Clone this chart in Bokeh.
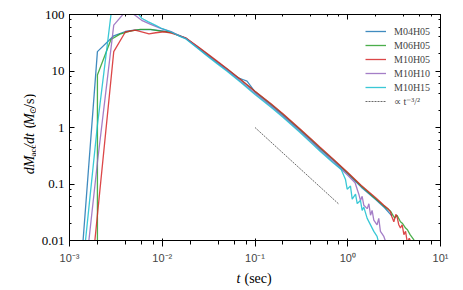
import math
from bokeh.plotting import figure
from bokeh.layouts import row, column
from bokeh.models import (LogAxis, LogTicker, CustomJSTickFormatter, Label, Legend,
                          LegendItem, Range1d)
from bokeh.embed import file_html
from bokeh.resources import INLINE

# ---------------- data ----------------
t_M04H05 = [0.0013, 0.002, 0.003, 0.004, 0.005, 0.006, 0.0075, 0.0095, 0.0125, 0.015, 0.018,
            0.025, 0.03, 0.04, 0.05, 0.065, 0.075, 0.082, 0.09, 0.1, 0.15, 0.2, 0.3, 0.4, 0.5,
            0.7, 1.0, 1.4, 2.0, 2.5, 3.0]
v_M04H05 = [0.002, 22, 42, 50, 53, 54, 54, 52, 48.5, 43, 38,
            25, 19.8, 14, 10.6, 7.6, 7.0, 6.6, 5.4, 4.25, 2.47, 1.65, 0.92, 0.595, 0.425,
            0.262, 0.152, 0.088, 0.053, 0.038, 0.027]

t_M06H05 = [0.002, 0.002, 0.0028, 0.0035, 0.0045, 0.0058, 0.0075, 0.0096, 0.0125, 0.015, 0.018,
            0.025, 0.03, 0.04, 0.05, 0.07, 0.1, 0.15, 0.2, 0.3, 0.4, 0.5, 0.7, 1.0, 1.4, 2.0,
            2.45, 2.9, 3.2, 3.4, 3.7, 3.9, 4.2, 4.4, 4.7, 5.1, 5.6]
v_M06H05 = [1e-5, 8.5, 36, 45, 51, 54.5, 54.5, 51, 48, 42.5, 38,
            25.6, 20.4, 14.2, 10.8, 7.0, 4.32, 2.55, 1.72, 0.95, 0.62, 0.44, 0.27, 0.156, 0.092, 0.055,
            0.041, 0.033, 0.025, 0.028, 0.0215, 0.02, 0.0166, 0.0155, 0.0127, 0.0106, 0.008]

t_M10H05 = [0.0018, 0.003, 0.004, 0.0051, 0.006, 0.0072, 0.0085, 0.0105, 0.0125, 0.015, 0.018,
            0.025, 0.03, 0.04, 0.05, 0.07, 0.1, 0.15, 0.2, 0.3, 0.4, 0.5, 0.7, 1.0, 1.4, 2.0,
            2.45, 2.7, 2.89, 3.0, 3.14, 3.3, 3.41, 3.55, 3.7, 3.86, 4.03, 4.2, 4.4, 4.6, 4.8, 5.0]
v_M10H05 = [0.005, 22, 49, 53, 49.5, 45.5, 47.5, 49.5, 47, 42.5, 38.5,
            26, 20.8, 14.5, 11, 7.1, 4.4, 2.6, 1.75, 0.97, 0.63, 0.45, 0.275, 0.16, 0.094, 0.057,
            0.042, 0.037, 0.032, 0.026, 0.0215, 0.029, 0.026, 0.019, 0.0166, 0.019, 0.0127, 0.0145,
            0.009, 0.011, 0.0095, 0.005]

t_M10H10 = [0.0015, 0.002, 0.003, 0.004, 0.005, 0.006, 0.0075, 0.0096, 0.0125, 0.015, 0.018,
            0.025, 0.03, 0.04, 0.05, 0.07, 0.1, 0.15, 0.2, 0.3, 0.4, 0.5, 0.7, 1.0, 1.2,
            1.316, 1.372, 1.43, 1.49, 1.62, 1.69, 1.76, 1.83, 1.91, 2.07, 2.16, 2.25, 2.45, 2.66]
v_M10H10 = [0.0032, 0.24, 65, 112, 99, 79, 67, 57, 50, 42.5, 37.5,
            24.6, 19.4, 13.6, 10.3, 6.6, 4.05, 2.38, 1.6, 0.88, 0.57, 0.405, 0.248, 0.143, 0.105,
            0.066, 0.051, 0.0605, 0.042, 0.0366, 0.0447, 0.028, 0.034, 0.023, 0.0189, 0.0246,
            0.0145, 0.0118, 0.008]

t_M10H15 = [0.0014, 0.002, 0.003, 0.004, 0.005, 0.006, 0.007, 0.0085, 0.01, 0.0125, 0.015, 0.018,
            0.025, 0.03, 0.04, 0.05, 0.07, 0.1, 0.15, 0.2, 0.3, 0.4, 0.5, 0.7, 0.85,
            0.946, 0.986, 1.07, 1.117, 1.213, 1.265, 1.372, 1.43, 1.49, 1.62, 1.76, 1.91, 2.07, 2.2]
v_M10H15 = [0.0038, 1.1, 250, 220, 125, 86, 75, 64, 56, 49, 42, 37,
            24, 18.8, 13.1, 9.9, 6.3, 3.85, 2.27, 1.52, 0.84, 0.54, 0.385, 0.235, 0.18,
            0.12, 0.081, 0.092, 0.054, 0.066, 0.045, 0.051, 0.034, 0.039, 0.0246, 0.0189,
            0.0145, 0.0118, 0.008]

t_ref = [0.1, 0.8]
v_ref = [1.0, 0.0442]

series_names = ["M04H05", "M06H05", "M10H05", "M10H10", "M10H15"]
series_t = [t_M04H05, t_M06H05, t_M10H05, t_M10H10, t_M10H15]
series_v = [v_M04H05, v_M06H05, v_M10H05, v_M10H10, v_M10H15]
colors = ["#1f77b4", "#2ca02c", "#d62728", "#9467bd", "#17becf"]
ref_label = "\u221d t\u207b\u00b3/\u00b2"

FONT = "Liberation Serif"

# ---------------- main figure ----------------
p = figure(width=425, height=266, x_axis_type="log", y_axis_type="log",
           x_range=Range1d(1e-3, 10), y_range=Range1d(0.01, 100),
           output_backend="svg", toolbar_location=None,
           min_border_left=33, min_border_right=21, min_border_top=14, min_border_bottom=20)
p.grid.visible = False
p.outline_line_color = "black"
p.outline_line_width = 1
p.background_fill_color = "white"
p.border_fill_color = "white"

xfmt = CustomJSTickFormatter(code="""
const e = Math.round(Math.log10(tick));
const sup = {'-':'\u207b','0':'\u2070','1':'\u00b9','2':'\u00b2','3':'\u00b3'};
return '10' + String(e).split('').map(c => sup[c]).join('');
""")
yfmt = CustomJSTickFormatter(code="""
return tick >= 1 ? tick.toFixed(0) : tick.toFixed(Math.round(-Math.log10(tick)));
""")

p.xaxis[0].ticker = LogTicker(desired_num_ticks=5)
p.yaxis[0].ticker = LogTicker(desired_num_ticks=5)
p.xaxis[0].formatter = xfmt
p.yaxis[0].formatter = yfmt

top = LogAxis(ticker=LogTicker(desired_num_ticks=5))
right = LogAxis(ticker=LogTicker(desired_num_ticks=5))
for ax in (top, right):
    ax.major_label_text_font_size = "1px"
    ax.major_label_text_alpha = 0
    ax.major_label_standoff = 0
p.add_layout(top, "above")
p.add_layout(right, "right")

for ax in (p.xaxis[0], p.yaxis[0], top, right):
    ax.major_tick_in = 5
    ax.major_tick_out = 0
    ax.minor_tick_in = 2
    ax.minor_tick_out = 0
    ax.axis_line_color = "black"
    ax.major_tick_line_color = "black"
    ax.minor_tick_line_color = "black"
    ax.major_label_text_font = FONT
    ax.major_label_text_color = "black"
p.xaxis[0].major_label_text_font_size = "13px"
p.yaxis[0].major_label_text_font_size = "13px"
p.xaxis[0].major_label_standoff = 3
p.yaxis[0].major_label_standoff = 5

items = []
for name, ts, vs, c in zip(series_names, series_t, series_v, colors):
    r = p.line(ts, vs, line_color=c, line_width=1.3, line_alpha=0.85)
    items.append(LegendItem(label=name, renderers=[r]))
rr = p.line(t_ref, v_ref, line_color="#444444", line_width=0.8, line_dash="2 1")
items.append(LegendItem(label=ref_label, renderers=[rr]))

legend = Legend(items=items, location=(296, 133), border_line_alpha=0,
                background_fill_alpha=0, label_text_font=FONT, label_text_font_size="10px",
                glyph_width=21, glyph_height=12, label_height=12, spacing=2, padding=0,
                margin=0, label_standoff=8)
p.add_layout(legend)


def blank(w, h):
    f = figure(width=w, height=h, x_range=Range1d(0, w), y_range=Range1d(0, h),
               output_backend="svg", toolbar_location=None,
               x_axis_location=None, y_axis_location=None,
               min_border=0, min_border_left=0, min_border_right=0,
               min_border_top=0, min_border_bottom=0)
    f.grid.visible = False
    f.outline_line_color = None
    f.background_fill_color = "white"
    f.border_fill_color = "white"
    return f


def lab(f, x, y, text, size="14px", style="normal", angle=0.0):
    f.add_layout(Label(x=x, y=y, text=text, angle=angle, text_font=FONT,
                       text_font_size=size, text_font_style=style,
                       text_baseline="alphabetic", text_align="left", text_color="black"))


# ---------------- y-axis title ----------------
ylab = blank(36, 266)
A = math.pi / 2
lab(ylab, 29, 78, "dM", style="italic", angle=A)
lab(ylab, 32, 99, "acc", size="9px", angle=A)
lab(ylab, 29, 109, "/dt", style="italic", angle=A)
lab(ylab, 29, 132, "(", angle=A)
lab(ylab, 29, 136, "M", style="italic", angle=A)
lab(ylab, 32, 149, "\u2299", size="9px", angle=A)
lab(ylab, 29, 156, "/s)", angle=A)

# ---------------- x-axis title ----------------
xlab = blank(461, 22)
lab(xlab, 236, 10, "t", style="italic")
lab(xlab, 244, 10, "(sec)")

layout = column(row(ylab, p, spacing=0), xlab, spacing=0)

open("out.html", "w", encoding="utf-8").write(file_html(layout, INLINE))
